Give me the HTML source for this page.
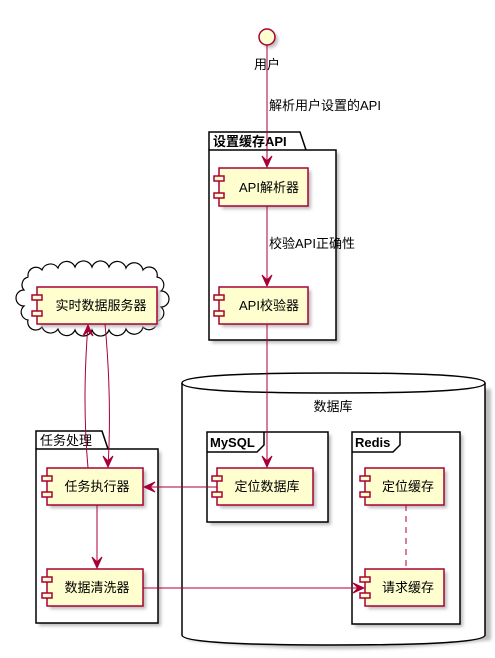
<!DOCTYPE html>
<html><head><meta charset="utf-8"><style>
body{margin:0;background:#fff}
svg{display:block;font-family:"Liberation Sans","Noto Sans CJK SC",sans-serif}
.c{fill:#FEFECE;stroke:#A80036;stroke-width:1.5}
.l{stroke:#A80036;stroke-width:1;fill:none}
.a{fill:#A80036;stroke:#A80036}
.f{fill:#fff;stroke:#000;stroke-width:1.5}
.t{font-size:13px;fill:#000}
.b{font-size:13px;font-weight:bold;fill:#000}
.sh{fill:#bbb}
</style></head><body>
<svg width="495" height="658" viewBox="0 0 495 658">
<defs><filter id="s" x="-10%" y="-10%" width="130%" height="130%"><feGaussianBlur stdDeviation="1.5"/></filter></defs>

<!-- database cylinder -->
<path d="M185,386 L185,637 Q334,655 488,637 L488,386" fill="#bbb" filter="url(#s)" transform="translate(3,3)"/>
<path d="M182,383 Q182,373 333,373 Q485,373 485,383 L485,635 Q485,645 333,645 Q182,645 182,635 Z" class="f"/>
<path d="M182,383 Q182,393 333,393 Q485,393 485,383" class="f" fill="none"/>
<text x="333" y="411" class="t" text-anchor="middle">数据库</text>

<!-- MySQL frame -->
<rect x="210" y="435" width="121" height="90" class="sh" filter="url(#s)"/>
<rect x="207" y="432" width="121" height="90" class="f"/>
<path d="M207,452 L257,452 L264,445 L264,432" fill="none" stroke="#000" stroke-width="1.5"/>
<text x="210" y="447" class="b">MySQL</text>

<!-- Redis frame -->
<rect x="355" y="435" width="108" height="192" class="sh" filter="url(#s)"/>
<rect x="352" y="432" width="108" height="192" class="f"/>
<path d="M352,452 L393,452 L400,445 L400,432" fill="none" stroke="#000" stroke-width="1.5"/>
<text x="355" y="447" class="b">Redis</text>

<!-- API package -->
<rect x="212" y="153" width="127" height="190" class="sh" filter="url(#s)"/>
<path d="M209,150 L209,132 L300,132 L306,150" class="f"/>
<rect x="209" y="150" width="127" height="190" class="f"/>
<text x="213" y="146" class="b">设置缓存API</text>

<!-- 任务处理 package -->
<rect x="39" y="452" width="122" height="174" class="sh" filter="url(#s)"/>
<path d="M36,449 L36,431 L102,431 L108,449" class="f"/>
<rect x="36" y="449" width="122" height="174" class="f"/>
<text x="40" y="445" class="t">任务处理</text>

<!-- cloud -->
<path d="M28,276 a8,8 0 0 1 14,-6 a9,9 0 0 1 16,-2 a9,9 0 0 1 17,-1 a9,9 0 0 1 17,0 a9,9 0 0 1 17,0 a9,9 0 0 1 17,1 a9,9 0 0 1 17,2 a8,8 0 0 1 14,7 a8,8 0 0 1 4,14 a8,8 0 0 1 0,16 a8,8 0 0 1 -4,14 a8,8 0 0 1 -14,6 a9,9 0 0 1 -17,2 a9,9 0 0 1 -17,1 a9,9 0 0 1 -17,0 a9,9 0 0 1 -17,0 a9,9 0 0 1 -17,-1 a9,9 0 0 1 -16,-2 a8,8 0 0 1 -14,-7 a8,8 0 0 1 -4,-14 a8,8 0 0 1 0,-16 a8,8 0 0 1 4,-13 z" fill="#fff" stroke="#000" stroke-width="1.2"/>

<!-- components -->
<g id="comps">
<rect x="222" y="171" width="89" height="38" class="sh" filter="url(#s)"/>
<rect x="219" y="168" width="89" height="38" class="c"/>
<rect x="214" y="176" width="10" height="5" class="c" stroke-width="1"/><rect x="214" y="193" width="10" height="5" class="c" stroke-width="1"/>
<text x="269" y="192" class="t" text-anchor="middle">API解析器</text>

<rect x="222" y="290" width="89" height="37" class="sh" filter="url(#s)"/>
<rect x="219" y="287" width="89" height="37" class="c"/>
<rect x="214" y="295" width="10" height="5" class="c" stroke-width="1"/><rect x="214" y="311" width="10" height="5" class="c" stroke-width="1"/>
<text x="269" y="310" class="t" text-anchor="middle">API校验器</text>

<rect x="220" y="471" width="96" height="37" class="sh" filter="url(#s)"/>
<rect x="217" y="468" width="96" height="37" class="c"/>
<rect x="212" y="476" width="10" height="5" class="c" stroke-width="1"/><rect x="212" y="492" width="10" height="5" class="c" stroke-width="1"/>
<text x="267" y="491" class="t" text-anchor="middle">定位数据库</text>

<rect x="368" y="471" width="79" height="37" class="sh" filter="url(#s)"/>
<rect x="365" y="468" width="79" height="37" class="c"/>
<rect x="360" y="476" width="10" height="5" class="c" stroke-width="1"/><rect x="360" y="492" width="10" height="5" class="c" stroke-width="1"/>
<text x="408" y="491" class="t" text-anchor="middle">定位缓存</text>

<rect x="368" y="572" width="79" height="37" class="sh" filter="url(#s)"/>
<rect x="365" y="569" width="79" height="37" class="c"/>
<rect x="360" y="577" width="10" height="5" class="c" stroke-width="1"/><rect x="360" y="593" width="10" height="5" class="c" stroke-width="1"/>
<text x="408" y="592" class="t" text-anchor="middle">请求缓存</text>

<rect x="40" y="290" width="120" height="37" class="sh" filter="url(#s)"/>
<rect x="37" y="287" width="120" height="37" class="c"/>
<rect x="32" y="295" width="10" height="5" class="c" stroke-width="1"/><rect x="32" y="311" width="10" height="5" class="c" stroke-width="1"/>
<text x="101" y="310" class="t" text-anchor="middle">实时数据服务器</text>

<rect x="50" y="471" width="96" height="37" class="sh" filter="url(#s)"/>
<rect x="47" y="468" width="96" height="37" class="c"/>
<rect x="42" y="476" width="10" height="5" class="c" stroke-width="1"/><rect x="42" y="492" width="10" height="5" class="c" stroke-width="1"/>
<text x="97" y="491" class="t" text-anchor="middle">任务执行器</text>

<rect x="50" y="572" width="96" height="37" class="sh" filter="url(#s)"/>
<rect x="47" y="569" width="96" height="37" class="c"/>
<rect x="42" y="577" width="10" height="5" class="c" stroke-width="1"/><rect x="42" y="593" width="10" height="5" class="c" stroke-width="1"/>
<text x="97" y="592" class="t" text-anchor="middle">数据清洗器</text>
</g>

<!-- actor -->
<circle cx="270" cy="40" r="8" fill="#bbb" filter="url(#s)"/>
<circle cx="267" cy="37" r="8" class="c"/>
<text x="267" y="69" class="t" text-anchor="middle">用户</text>

<!-- connectors -->
<line x1="267" y1="45" x2="267" y2="167" class="l"/>
<path d="M262,156 L267,167 L272,156 L267,161 Z" class="a"/>
<text x="269" y="110" class="t">解析用户设置的API</text>

<line x1="267" y1="206" x2="267" y2="286" class="l"/>
<path d="M262,275 L267,286 L272,275 L267,280 Z" class="a"/>
<text x="269" y="248" class="t">校验API正确性</text>

<line x1="267" y1="324" x2="267" y2="467" class="l"/>
<path d="M262,456 L267,467 L272,456 L267,461 Z" class="a"/>

<path d="M88,468 Q82,400 88,325" class="l"/>
<path d="M83,336 L88,325 L93,336 L88,331 Z" class="a"/>
<path d="M105,324 Q112,400 108,467" class="l"/>
<path d="M103,456 L108,467 L113,456 L108,461 Z" class="a"/>

<line x1="217" y1="487" x2="144" y2="487" class="l"/>
<path d="M155,482 L144,487 L155,492 L150,487 Z" class="a"/>

<line x1="97" y1="505" x2="97" y2="568" class="l"/>
<path d="M92,557 L97,568 L102,557 L97,562 Z" class="a"/>

<line x1="143" y1="588" x2="364" y2="588" class="l"/>
<path d="M353,583 L364,588 L353,593 L358,588 Z" class="a"/>

<line x1="406" y1="505" x2="406" y2="569" class="l" stroke-dasharray="6,5"/>
</svg>
</body></html>
